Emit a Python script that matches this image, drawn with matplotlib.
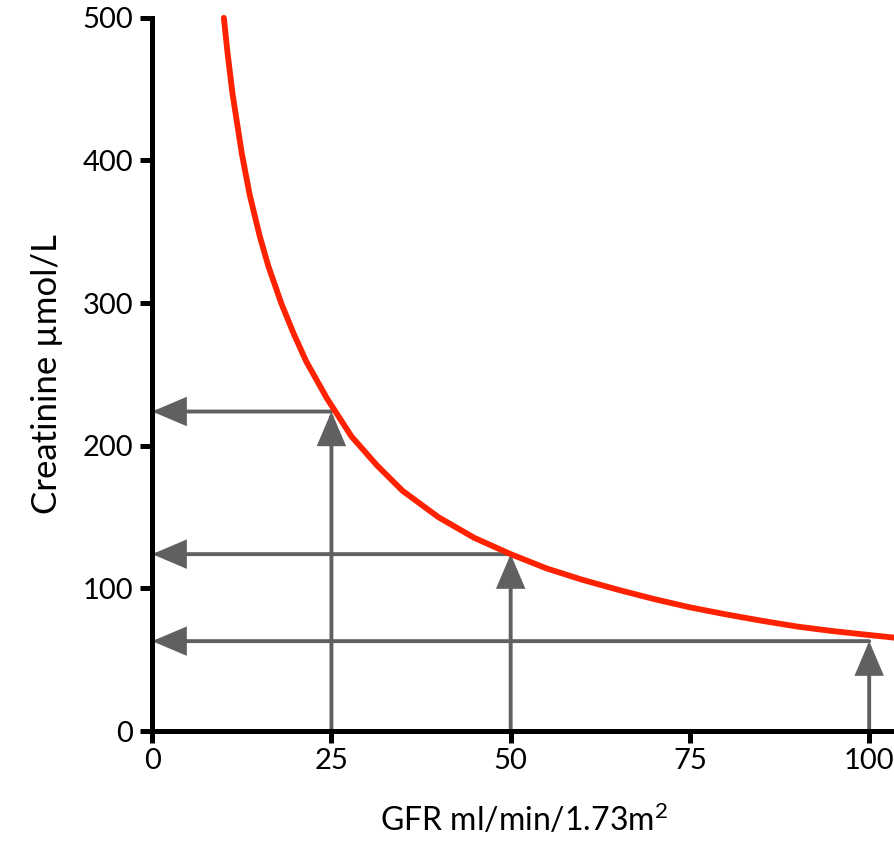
import matplotlib
matplotlib.use("Agg")
import matplotlib.pyplot as plt

# Serum creatinine against GFR
gfr = [10, 10.5, 11.2, 12.5, 13.6, 15, 16.2, 18, 19.7, 21.5, 24.4,
       25.3, 27.8, 31.4, 34.9, 39.9, 44.9, 50, 55, 60, 65, 70, 75, 80,
       85, 90, 95, 100, 103.6]
creatinine = [500, 476, 447, 405, 376, 347, 326, 300, 279, 259, 233,
              226, 206.5, 186, 168.5, 150, 135.5, 124, 114, 106, 99, 92.5,
              86.7, 81.8, 77.3, 73.2, 70.0, 67.3, 65.4]

# Worked examples: GFR value -> creatinine on the curve
example_gfr = [25, 50, 100]
example_creat = [224, 124, 63]

x_ticks = [0, 25, 50, 75, 100]
y_ticks = [0, 100, 200, 300, 400, 500]

plt.rcParams['font.family'] = ['Lato', 'DejaVu Sans']
plt.rcParams['mathtext.fontset'] = 'custom'
plt.rcParams['mathtext.rm'] = 'Lato'
plt.rcParams['mathtext.it'] = 'Lato'

fig = plt.figure(figsize=(8.95, 8.5), dpi=100)
ax = fig.add_axes([0.170, 0.140, 0.830, 0.839])

arrow_color = '#606060'
arrow_props = dict(arrowstyle='-|>,head_length=2.0,head_width=0.85',
                   mutation_scale=10, color=arrow_color, lw=2.8,
                   shrinkA=0, shrinkB=0, joinstyle='miter')

for gx, cy in zip(example_gfr, example_creat):
    # vertical arrow up from the axis to the curve
    ax.annotate('', xy=(gx, cy), xytext=(gx, 0), arrowprops=arrow_props,
                annotation_clip=False, zorder=2)
    # horizontal arrow from the curve across to the creatinine axis
    ax.annotate('', xy=(0, cy), xytext=(gx, cy), arrowprops=arrow_props,
                annotation_clip=False, zorder=2)

ax.plot(gfr, creatinine, color='#ff2200', lw=4.2, solid_capstyle='round',
        solid_joinstyle='round', clip_on=False, zorder=3)

ax.set_xlim(0, 103.6)
ax.set_ylim(0, 500)
ax.set_xticks(x_ticks)
ax.set_yticks(y_ticks)

for side in ('top', 'right'):
    ax.spines[side].set_visible(False)
for side in ('left', 'bottom'):
    ax.spines[side].set_linewidth(3.6)
    ax.spines[side].set_zorder(4)

ax.tick_params(axis='both', direction='out', length=8.5, width=3.6,
               labelsize=21, color='black')
ax.tick_params(axis='x', pad=4)
ax.tick_params(axis='y', pad=5)

ax.set_xlabel('GFR ml/min/1.73m$^2$', fontsize=23, labelpad=20)
ax.set_ylabel('Creatinine µmol/L', fontsize=25, labelpad=14)

fig.savefig('out.png', dpi=100)
